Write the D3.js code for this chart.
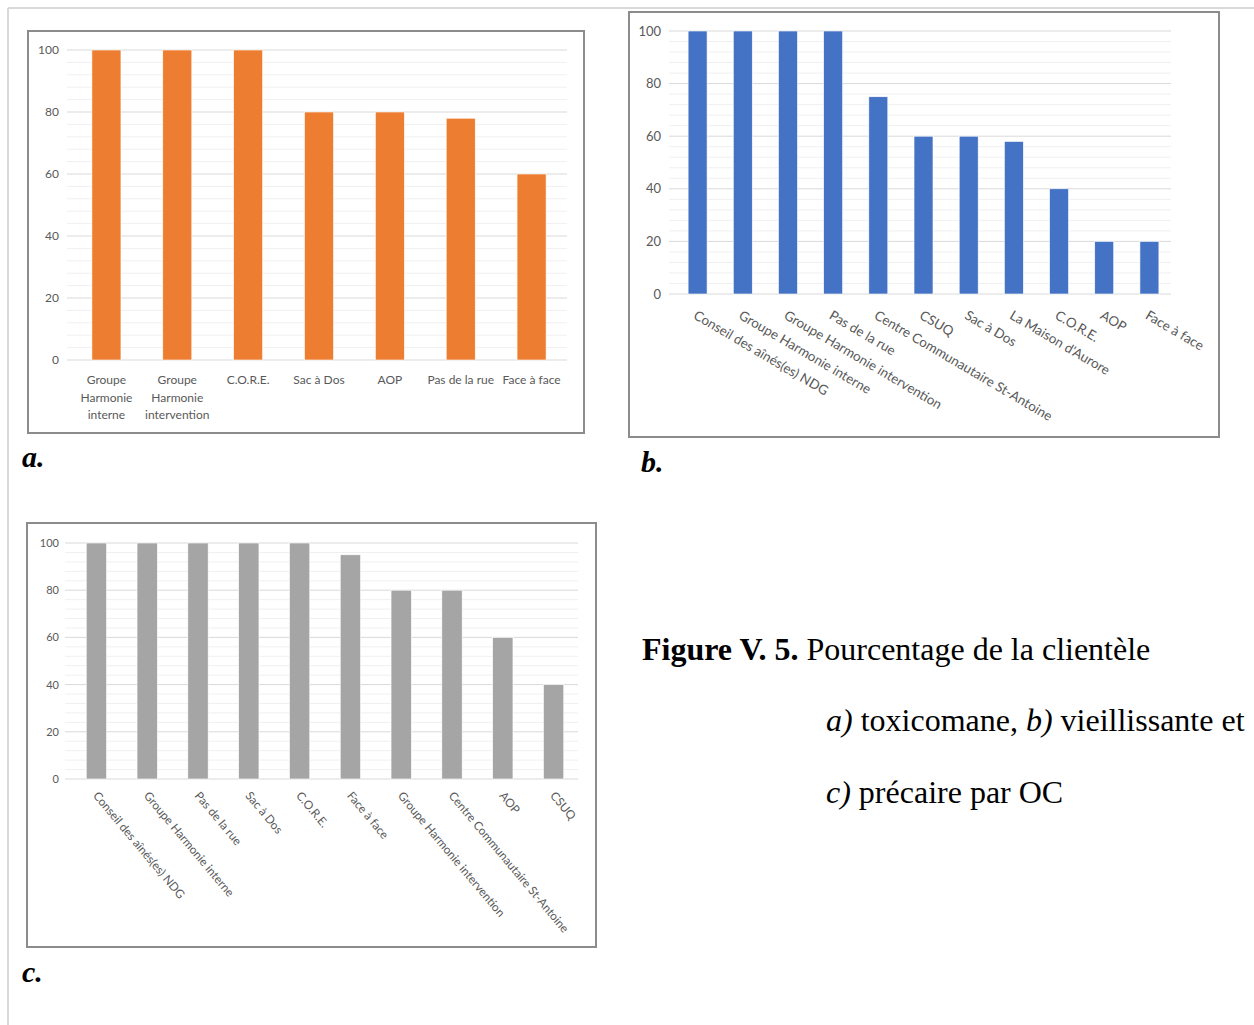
<!DOCTYPE html>
<html><head><meta charset="utf-8">
<script src="https://cdn.jsdelivr.net/npm/d3@7"></script>
<style>body{margin:0;background:#fff;} svg{display:block;}</style>
</head><body>
<script>
// ---- Data ----
const catsA = ["Groupe Harmonie interne", "Groupe Harmonie intervention", "C.O.R.E.", "Sac à Dos", "AOP", "Pas de la rue", "Face à face"];
const labelsA = [["Groupe","Harmonie","interne"],["Groupe","Harmonie","intervention"],["C.O.R.E."],["Sac à Dos"],["AOP"],["Pas de la rue"],["Face à face"]];
const valsA = [100, 100, 100, 80, 80, 78, 60];

const catsB = ["Conseil des aînés(es) NDG", "Groupe Harmonie interne", "Groupe Harmonie intervention", "Pas de la rue", "Centre Communautaire St-Antoine", "CSUQ", "Sac à Dos", "La Maison d'Aurore", "C.O.R.E.", "AOP", "Face à face"];
const valsB = [100, 100, 100, 100, 75, 60, 60, 58, 40, 20, 20];

const catsC = ["Conseil des aînés(es) NDG", "Groupe Harmonie interne", "Pas de la rue", "Sac à Dos", "C.O.R.E.", "Face à face", "Groupe Harmonie intervention", "Centre Communautaire St-Antoine", "AOP", "CSUQ"];
const valsC = [100, 100, 100, 100, 100, 95, 80, 80, 60, 40];

const yTicks = [0, 20, 40, 60, 80, 100];

const W = 1254, H = 1025;
const svg = d3.select("body").append("svg").attr("width", W).attr("height", H);

// outer page border
svg.append("line").attr("x1", 8).attr("y1", 8).attr("x2", W).attr("y2", 8).attr("stroke", "#d9d9d9").attr("stroke-width", 2);
svg.append("line").attr("x1", 8).attr("y1", 8).attr("x2", 8).attr("y2", H).attr("stroke", "#d9d9d9").attr("stroke-width", 2);

function panel(o) {
  const g = svg.append("g");
  g.append("rect").attr("x", o.frame[0]).attr("y", o.frame[1])
    .attr("width", o.frame[2] - o.frame[0]).attr("height", o.frame[3] - o.frame[1])
    .attr("fill", "#fff").attr("stroke", "#8c8c8c").attr("stroke-width", 2);
  const x = d3.scaleBand().domain(o.cats).range([o.x0, o.x1]).paddingInner(o.pad).paddingOuter(o.pad / 2);
  const y = d3.scaleLinear().domain([0, 100]).range([o.y0, o.y1]);
  // minor grid
  const minor = d3.range(0, 101, 4).filter(v => v % 20 !== 0);
  g.selectAll(".mn").data(minor).join("line")
    .attr("x1", o.gx0).attr("x2", o.gx1).attr("y1", d => y(d)).attr("y2", d => y(d))
    .attr("stroke", "#f0f0f0").attr("stroke-width", 1);
  g.selectAll(".mj").data(yTicks).join("line")
    .attr("x1", o.gx0).attr("x2", o.gx1).attr("y1", d => y(d)).attr("y2", d => y(d))
    .attr("stroke", "#d9d9d9").attr("stroke-width", 1);
  // y axis labels via d3 axis
  const ax = g.append("g").attr("transform", `translate(${o.tickX},0)`)
    .call(d3.axisLeft(y).tickValues(yTicks).tickSize(0).tickPadding(0));
  ax.select(".domain").remove();
  ax.selectAll("text").attr("fill", "#595959").attr("font-family", "Lato, 'Open Sans', sans-serif").attr("font-size", o.tickFs);
  // bars
  g.selectAll(".bar").data(o.vals).join("rect")
    .attr("x", (d, i) => x(o.cats[i])).attr("width", x.bandwidth())
    .attr("y", d => y(d)).attr("height", d => y(0) - y(d))
    .attr("fill", o.color).attr("stroke", "#fff").attr("stroke-width", 0.6);
  return {g, x, y};
}

// Panel a
const pa = panel({frame: [28, 31, 584, 433], cats: catsA, vals: valsA, x0: 71, x1: 567, pad: 0.59,
  y0: 360, y1: 50, gx0: 67, gx1: 567, tickX: 59, tickFs: 12, color: "#ED7D31"});
catsA.forEach((c, i) => {
  const t = pa.g.append("text").attr("x", pa.x(c) + pa.x.bandwidth() / 2).attr("y", 384)
    .attr("text-anchor", "middle").attr("fill", "#595959").attr("font-family", "Lato, sans-serif").attr("font-size", 12);
  labelsA[i].forEach((l, k) => t.append("tspan").attr("x", pa.x(c) + pa.x.bandwidth() / 2).attr("dy", k ? 17.5 : 0).text(l));
});

// Panel b
const pb = panel({frame: [629, 12, 1219, 437], cats: catsB, vals: valsB, x0: 675, x1: 1172, pad: 0.58,
  y0: 294, y1: 31, gx0: 669, gx1: 1171, tickX: 661, tickFs: 13, color: "#4472C4"});
catsB.forEach(c => {
  const cx = pb.x(c) + pb.x.bandwidth() / 2;
  pb.g.append("text").attr("transform", `translate(${cx - 5},${318}) rotate(30.5)`)
    .attr("text-anchor", "start").attr("fill", "#595959").attr("font-family", "Lato, sans-serif").attr("font-size", 13.4)
    .text(c);
});

// Panel c
const pc = panel({frame: [27, 523, 596, 947], cats: catsC, vals: valsC, x0: 71, x1: 579, pad: 0.6,
  y0: 779, y1: 543, gx0: 65, gx1: 578, tickX: 59, tickFs: 11, color: "#A5A5A5"});
catsC.forEach(c => {
  const cx = pc.x(c) + pc.x.bandwidth() / 2;
  pc.g.append("text").attr("transform", `translate(${cx - 4},${796}) rotate(50)`)
    .attr("text-anchor", "start").attr("fill", "#595959").attr("font-family", "Lato, sans-serif").attr("font-size", 11.8)
    .text(c);
});

// panel letters
const serif = "'Liberation Serif', 'Times New Roman', serif";
[["a", 22, 467], ["b", 641, 472], ["c", 22, 982]].forEach(([l, xx, yy]) => {
  svg.append("text").attr("x", xx).attr("y", yy).attr("font-family", serif).attr("font-size", 30)
    .attr("font-weight", "bold").attr("font-style", "italic").attr("fill", "#000").text(l + ".");
});

// caption
const cap1 = svg.append("text").attr("x", 642).attr("y", 660).attr("font-family", serif).attr("font-size", 32).attr("fill", "#000");
cap1.append("tspan").attr("font-weight", "bold").text("Figure V. 5.");
cap1.append("tspan").text(" Pourcentage de la clientèle");
const cap2 = svg.append("text").attr("x", 826).attr("y", 731).attr("font-family", serif).attr("font-size", 32).attr("fill", "#000");
cap2.append("tspan").attr("font-style", "italic").text("a)");
cap2.append("tspan").text(" toxicomane, ");
cap2.append("tspan").attr("font-style", "italic").text("b)");
cap2.append("tspan").text(" vieillissante et");
const cap3 = svg.append("text").attr("x", 826).attr("y", 803).attr("font-family", serif).attr("font-size", 32).attr("fill", "#000");
cap3.append("tspan").attr("font-style", "italic").text("c)");
cap3.append("tspan").text(" précaire par OC");
</script>
</body></html>
